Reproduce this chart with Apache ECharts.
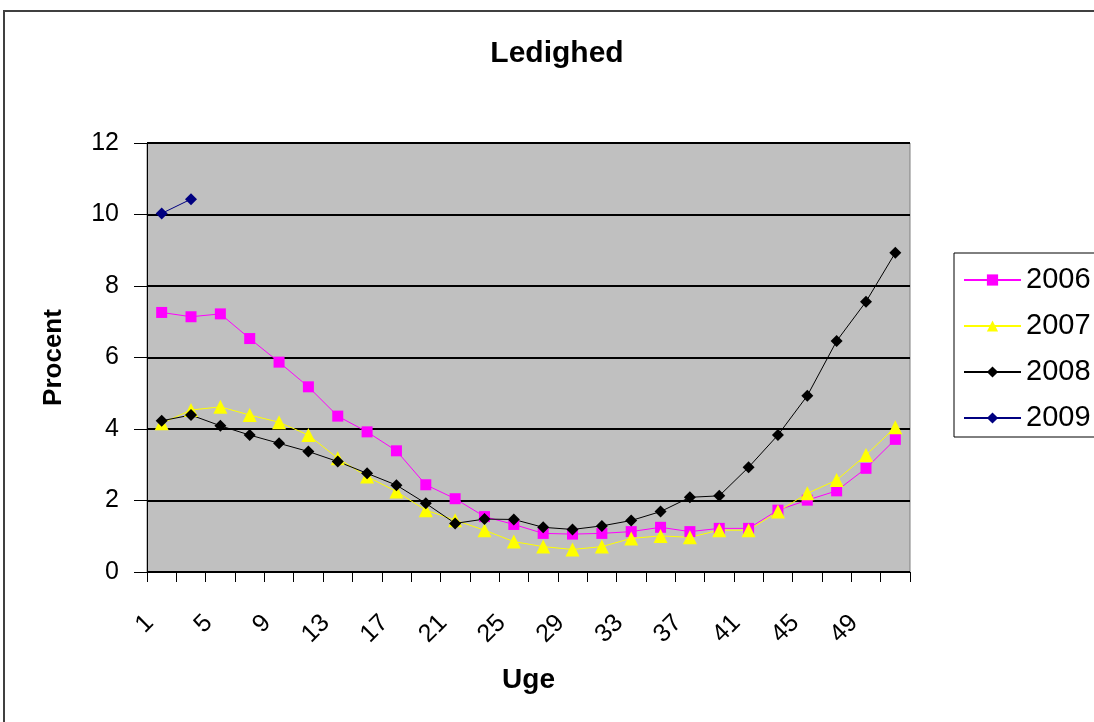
<!DOCTYPE html>
<html><head><meta charset="utf-8">
<script src="https://cdn.jsdelivr.net/npm/echarts@6/dist/echarts.min.js"></script>
<style>html,body{margin:0;padding:0;background:#fff}#c{width:1094px;height:722px}</style>
</head><body><div id="c"></div>
<script>
const weeks = ['1','3','5','7','9','11','13','15','17','19','21','23','25','27','29','31','33','35','37','39','41','43','45','47','49','51'];
const s2006 = [7.26,7.14,7.22,6.53,5.87,5.18,4.36,3.92,3.39,2.44,2.05,1.55,1.33,1.08,1.06,1.08,1.13,1.25,1.13,1.22,1.22,1.73,2.01,2.27,2.90,3.71];
const s2007 = [4.16,4.53,4.62,4.39,4.19,3.83,3.18,2.67,2.25,1.73,1.45,1.17,0.85,0.71,0.63,0.71,0.94,1.01,0.97,1.17,1.17,1.69,2.20,2.57,3.27,4.05];
const s2008 = [4.23,4.39,4.09,3.83,3.60,3.37,3.09,2.76,2.43,1.92,1.36,1.48,1.47,1.25,1.19,1.29,1.44,1.69,2.09,2.13,2.93,3.83,4.93,6.46,7.56,8.93];
const s2009 = [10.03,10.43];
const yTicks = [0,2,4,6,8,10,12];

const font = 'Liberation Sans, Arial, sans-serif';
const chart = echarts.init(document.getElementById('c'));
function ser(name, data, color, symbol, size){
  return {name, type:'line', data, symbol, symbolSize:size, showAllSymbol:true,
    lineStyle:{color, width:1}, itemStyle:{color, borderWidth:0},
    emphasis:{disabled:true}, z: 3};
}
chart.setOption({
  animation:false,
  backgroundColor:'#fff',
  title:{text:'Ledighed', left:552, top:34, textAlign:'center',
    textStyle:{fontFamily:font, fontSize:30, fontWeight:'bold', color:'#000'}},
  graphic:[
    {type:'rect', shape:{x:4, y:11, width:1200, height:800}, style:{fill:'none', stroke:'#404040', lineWidth:2}, silent:true},
    {type:'rect', shape:{x:954, y:253, width:200, height:184}, style:{fill:'#fff', stroke:'#000', lineWidth:1}, silent:true, z:0}
  ],
  legend:{left:958, top:260, orient:'vertical', itemGap:16, itemWidth:57, itemHeight:14,
    textStyle:{fontFamily:font, fontSize:29, lineHeight:30, color:'#000'}, data:['2006','2007','2008','2009'], z:5},
  grid:{left:147, right:184, top:143, bottom:150, show:true, backgroundColor:'#C0C0C0', borderColor:'#808080', borderWidth:1},
  xAxis:{type:'category', data:weeks, boundaryGap:true, name:'Uge', nameLocation:'middle', nameGap:94,
    nameTextStyle:{fontFamily:font, fontSize:28, fontWeight:'bold', color:'#000'},
    axisLine:{lineStyle:{color:'#000', width:1}},
    axisTick:{show:true, interval:0, length:10, lineStyle:{color:'#000'}},
    axisLabel:{interval:1, rotate:45, fontFamily:font, fontSize:25, color:'#000', margin:35,
      padding:[0,17,34,0]},
    splitLine:{show:false}},
  yAxis:{type:'value', min:0, max:12, interval:2, name:'Procent', nameLocation:'middle', nameGap:80, nameRotate:90,
    nameTextStyle:{fontFamily:font, fontSize:26, fontWeight:'bold', color:'#000'},
    axisLine:{show:true, lineStyle:{color:'#000', width:1}},
    axisTick:{show:true, length:13, lineStyle:{color:'#000'}},
    axisLabel:{fontFamily:font, fontSize:25, color:'#000', margin:28,
      formatter:v=> yTicks.includes(v) ? String(v) : ''},
    splitLine:{show:true, lineStyle:{color:'#000', width:2}}},
  series:[
    ser('2006', s2006, '#FF00FF', 'rect', 11),
    ser('2007', s2007, '#FFFF00', 'triangle', 14),
    ser('2008', s2008, '#000000', 'diamond', 12),
    ser('2009', s2009, '#000080', 'diamond', 12)
  ]
});
</script></body></html>
